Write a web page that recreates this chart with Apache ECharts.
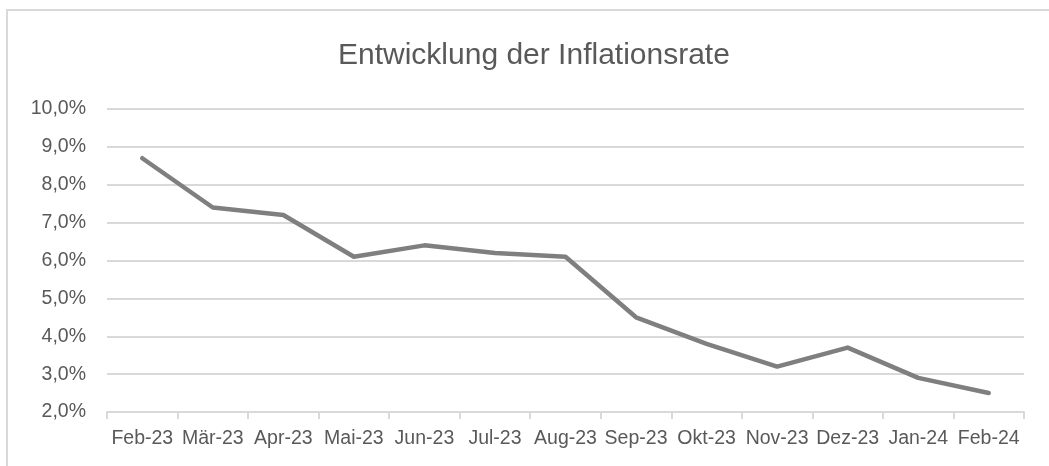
<!DOCTYPE html>
<html><head><meta charset="utf-8">
<script src="https://cdn.jsdelivr.net/npm/echarts@6/dist/echarts.min.js"></script>
<style>html,body{margin:0;padding:0;background:#fff}#c{width:1049px;height:466px}</style>
</head><body><div id="c"></div>
<script>
const categories = ['Feb-23','Mär-23','Apr-23','Mai-23','Jun-23','Jul-23','Aug-23','Sep-23','Okt-23','Nov-23','Dez-23','Jan-24','Feb-24'];
const inflation = [8.7, 7.4, 7.2, 6.1, 6.4, 6.2, 6.1, 4.5, 3.8, 3.2, 3.7, 2.9, 2.5];
const titleText = 'Entwicklung der Inflationsrate';
const yMin = 2, yMax = 10, yStep = 1;

const chart = echarts.init(document.getElementById('c'), null, {renderer:'canvas'});
const font = '"Liberation Sans", Arial, sans-serif';
chart.setOption({
  animation:false,
  backgroundColor:'#ffffff',
  textStyle:{fontFamily:font},
  graphic:[{type:'rect', shape:{x:7,y:10,width:1100,height:500}, style:{fill:'none', stroke:'#d9d9d9', lineWidth:2}, silent:true}],
  title:{text:titleText, left:333, top:36, textStyle:{fontFamily:font, fontSize:30, fontWeight:'normal', color:'#595959'}},
  grid:{left:107, right:25, top:109, bottom:54, containLabel:false},
  xAxis:{type:'category', data:categories, boundaryGap:true,
    axisLine:{lineStyle:{color:'#d9d9d9', width:2}},
    axisTick:{show:true, length:7, lineStyle:{color:'#d9d9d9', width:2}, alignWithLabel:false},
    axisLabel:{color:'#595959', fontSize:19.5, margin:17, interval:0, fontFamily:font}},
  yAxis:{type:'value', min:yMin, max:yMax, interval:yStep,
    axisLine:{show:false}, axisTick:{show:false},
    splitLine:{lineStyle:{color:'#d9d9d9', width:2}},
    axisLabel:{color:'#595959', fontSize:19.5, margin:21, fontFamily:font,
      formatter:v=>v.toFixed(1).replace('.',',')+'%'}},
  series:[{type:'line', data:inflation, symbol:'none', lineStyle:{color:'#7f7f7f', width:4.5, cap:'round', join:'round'}}]
});
</script></body></html>
